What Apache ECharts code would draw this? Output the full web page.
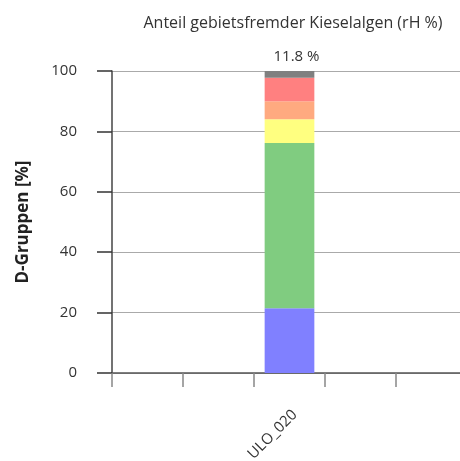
<!DOCTYPE html>
<html><head><meta charset="utf-8">
<script src="https://cdn.jsdelivr.net/npm/echarts@6/dist/echarts.min.js"></script>
<style>html,body{margin:0;padding:0;background:#fff}#c{width:460px;height:461px}</style>
</head><body><div id="c"></div>
<script>
const categories = ['', '', 'ULO_020', '', ''];
const groupNames = ['D1', 'D2', 'D3', 'D4', 'D5', 'D6'];
const groupColors = ['#8080ff', '#80cc80', '#ffff80', '#ffaa80', '#ff8080', '#808080'];
const d1 = [null, null, 21.4, null, null];
const d2 = [null, null, 54.8, null, null];
const d3 = [null, null, 7.8, null, null];
const d4 = [null, null, 6.0, null, null];
const d5 = [null, null, 7.8, null, null];
const d6 = [null, null, 2.2, null, null];
const topLabels = ['', '', '11.8 %', '', ''];
const yTicks = [0, 20, 40, 60, 80, 100];
const titleText = 'Anteil gebietsfremder Kieselalgen (rH %)';
const yName = 'D-Gruppen [%]';

const seriesData = [d1, d2, d3, d4, d5, d6];
const font = '"Open Sans", sans-serif';
const chart = echarts.init(document.getElementById('c'), null, {renderer: 'canvas'});
chart.setOption({
  animation: false,
  title: {text: titleText, left: 288, top: 10, textAlign: 'center',
    textStyle: {fontFamily: font, fontSize: 16, fontWeight: 'normal', color: '#333'}},
  grid: {left: 112, width: 355, top: 71, bottom: 88, containLabel: false, outerBoundsMode: 'none'},
  xAxis: {type: 'category', data: categories,
    axisLine: {lineStyle: {color: '#555', width: 1.5}},
    axisTick: {show: true, length: 14, interval: 0, lineStyle: {color: '#888', width: 1.5}},
    axisLabel: {interval: 0, rotate: 45, margin: 34, verticalAlign: 'top', fontFamily: font, fontSize: 15, color: '#333'}},
  yAxis: {type: 'value', min: 0, max: 100, interval: 20,
    name: yName, nameLocation: 'middle', nameGap: 80,
    nameTextStyle: {fontFamily: font, fontSize: 17, fontWeight: 'bold', color: '#222'},
    axisLine: {show: true, lineStyle: {color: '#444', width: 1.5}},
    axisTick: {show: true, length: 15, lineStyle: {color: '#333', width: 1.5}},
    axisLabel: {margin: 35, fontFamily: font, fontSize: 15, color: '#333',
      formatter: v => yTicks.includes(v) ? String(v) : ''},
    splitLine: {lineStyle: {color: '#aaa', width: 1}}},
  series: seriesData.map((d, i) => ({
    name: groupNames[i], type: 'bar', stack: 'g', data: d, barWidth: '70%',
    itemStyle: {color: groupColors[i]},
    label: i === seriesData.length - 1 ? {show: true, position: 'top', distance: 7, offset: [7, 0],
      fontFamily: font, fontSize: 15, color: '#333',
      formatter: p => topLabels[p.dataIndex]} : {show: false}
  }))
});
</script></body></html>
